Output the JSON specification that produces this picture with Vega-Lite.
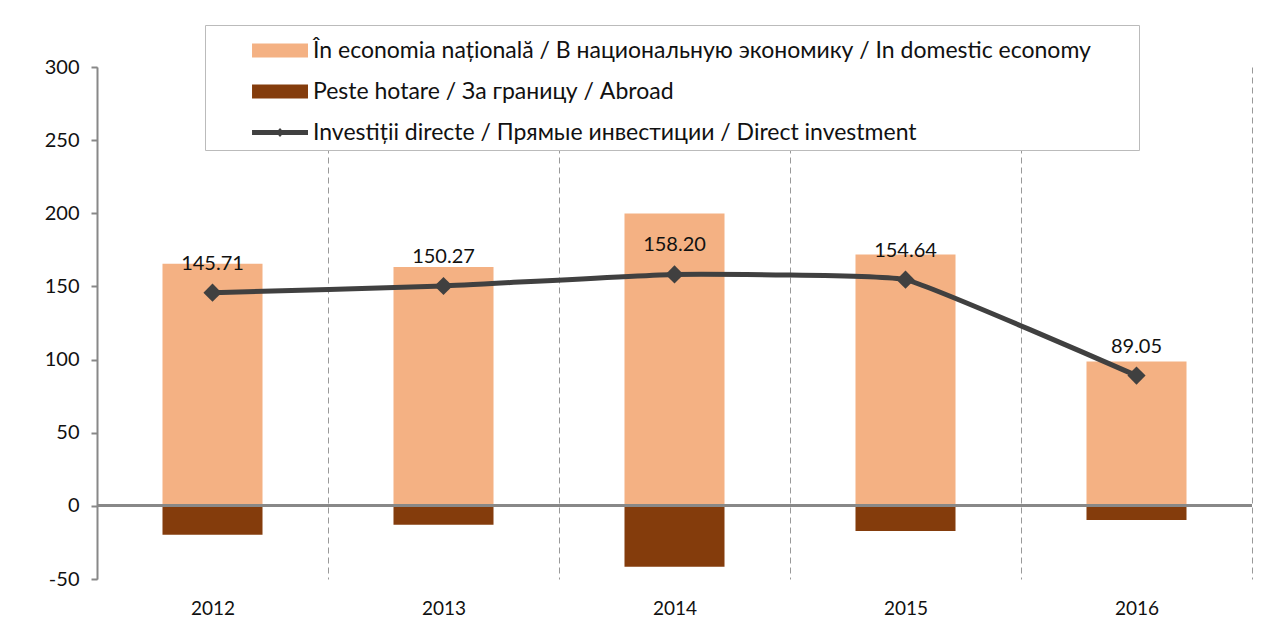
{
  "$schema": "https://vega.github.io/schema/vega-lite/v6.json",
  "width": 1155,
  "height": 512,
  "autosize": {"type": "none"},
  "padding": {"left": 97, "top": 67, "right": 17, "bottom": 54},
  "background": "white",
  "config": {"view": {"stroke": null}, "font": "Lato"},
  "data": {
    "values": [
      {"year": "2012", "series": "În economia națională / В национальную экономику / In domestic economy", "value": 165.5},
      {"year": "2013", "series": "În economia națională / В национальную экономику / In domestic economy", "value": 163.3},
      {"year": "2014", "series": "În economia națională / В национальную экономику / In domestic economy", "value": 199.9},
      {"year": "2015", "series": "În economia națională / В национальную экономику / In domestic economy", "value": 171.8},
      {"year": "2016", "series": "În economia națională / В национальную экономику / In domestic economy", "value": 98.6},
      {"year": "2012", "series": "Peste hotare / За границу / Abroad", "value": -19.8},
      {"year": "2013", "series": "Peste hotare / За границу / Abroad", "value": -13.0},
      {"year": "2014", "series": "Peste hotare / За границу / Abroad", "value": -41.7},
      {"year": "2015", "series": "Peste hotare / За границу / Abroad", "value": -17.2},
      {"year": "2016", "series": "Peste hotare / За границу / Abroad", "value": -9.6},
      {"year": "2012", "series": "Investiții directe / Прямые инвестиции / Direct investment", "value": 145.71},
      {"year": "2013", "series": "Investiții directe / Прямые инвестиции / Direct investment", "value": 150.27},
      {"year": "2014", "series": "Investiții directe / Прямые инвестиции / Direct investment", "value": 158.20},
      {"year": "2015", "series": "Investiții directe / Прямые инвестиции / Direct investment", "value": 154.64},
      {"year": "2016", "series": "Investiții directe / Прямые инвестиции / Direct investment", "value": 89.05}
    ]
  },
  "encoding": {
    "x": {
      "field": "year", "type": "ordinal",
      "scale": {"paddingInner": 0, "paddingOuter": 0},
      "axis": {
        "title": null, "labelAngle": 0, "domain": false, "ticks": false,
        "tickBand": "extent", "grid": true, "gridDash": [6, 4], "gridColor": "#999", "gridWidth": 1,
        "labelPadding": 20, "labelFontSize": 19, "labelFont": "Lato", "labelColor": "#111"
      }
    }
  },
  "layer": [
    {
      "transform": [{"filter": "datum.series !== 'Investiții directe / Прямые инвестиции / Direct investment'"}],
      "mark": {"type": "bar", "width": {"band": 0.433}},
      "encoding": {
        "y": {
          "field": "value", "type": "quantitative", "stack": null,
          "scale": {"domain": [-50, 300], "nice": false, "zero": false},
          "axis": {
            "title": null, "values": [-50, 0, 50, 100, 150, 200, 250, 300], "grid": false,
            "labelExpr": "replace(datum.label, '\u2212', '-')",
            "domainColor": "#888", "domainWidth": 2, "tickColor": "#888", "tickSize": 6, "tickWidth": 2,
            "labelPadding": 12, "labelFontSize": 20, "labelFont": "Lato", "labelColor": "#111"
          }
        },
        "color": {
          "field": "series", "type": "nominal",
          "scale": {
            "domain": [
              "În economia națională / В национальную экономику / In domestic economy",
              "Peste hotare / За границу / Abroad",
              "Investiții directe / Прямые инвестиции / Direct investment"
            ],
            "range": ["#F4B183", "#843C0C", "#404040"]
          },
          "legend": {
            "title": ".", "titleOrient": "right", "titlePadding": 40, "titleOpacity": 0, "titleFontSize": 10,
            "orient": "none", "legendX": 108, "legendY": -42,
            "padding": 5, "symbolOffset": 57, "rowPadding": 8,
            "strokeColor": "#bbb", "fillColor": "white",
            "labelFontSize": 23, "labelFont": "Lato", "labelColor": "#111", "labelOffset": 5, "labelLimit": 0,
            "symbolSize": 1681,
            "encode": {
              "symbols": {
                "update": {
                  "shape": {"signal": "datum.value === 'Investiții directe / Прямые инвестиции / Direct investment' ? 'M-1.73,-0.12H1V0.12H-1.73Z M-0.565,0L-0.365,-0.22L-0.165,0L-0.365,0.22Z' : 'M-1.73,-0.34H1V0.34H-1.73Z'"},
                  "fill": {"signal": "scale('color', datum.value)"},
                  "strokeWidth": {"value": 0},
                  "opacity": {"value": 1},
                  "fillOpacity": {"value": 1}
                }
              }
            }
          }
        }
      }
    },
    {
      "mark": {"type": "rule", "color": "#888", "strokeWidth": 2},
      "encoding": {"y": {"datum": 0, "type": "quantitative"}, "x": {"value": 0}, "x2": {"value": 1155}}
    },
    {
      "transform": [{"filter": "datum.series === 'Investiții directe / Прямые инвестиции / Direct investment'"}],
      "mark": {
        "type": "line", "interpolate": "cardinal", "tension": 0.7, "strokeWidth": 5,
        "point": {"shape": "diamond", "size": 330, "filled": true, "opacity": 1}
      },
      "encoding": {
        "y": {"field": "value", "type": "quantitative"},
        "color": {"field": "series", "type": "nominal"}
      }
    },
    {
      "transform": [{"filter": "datum.series === 'Investiții directe / Прямые инвестиции / Direct investment'"}],
      "mark": {"type": "text", "dy": -29, "fontSize": 20, "font": "Lato", "color": "#111", "baseline": "middle"},
      "encoding": {
        "y": {"field": "value", "type": "quantitative"},
        "text": {"field": "value", "type": "quantitative", "format": ".2f"}
      }
    }
  ]
}
